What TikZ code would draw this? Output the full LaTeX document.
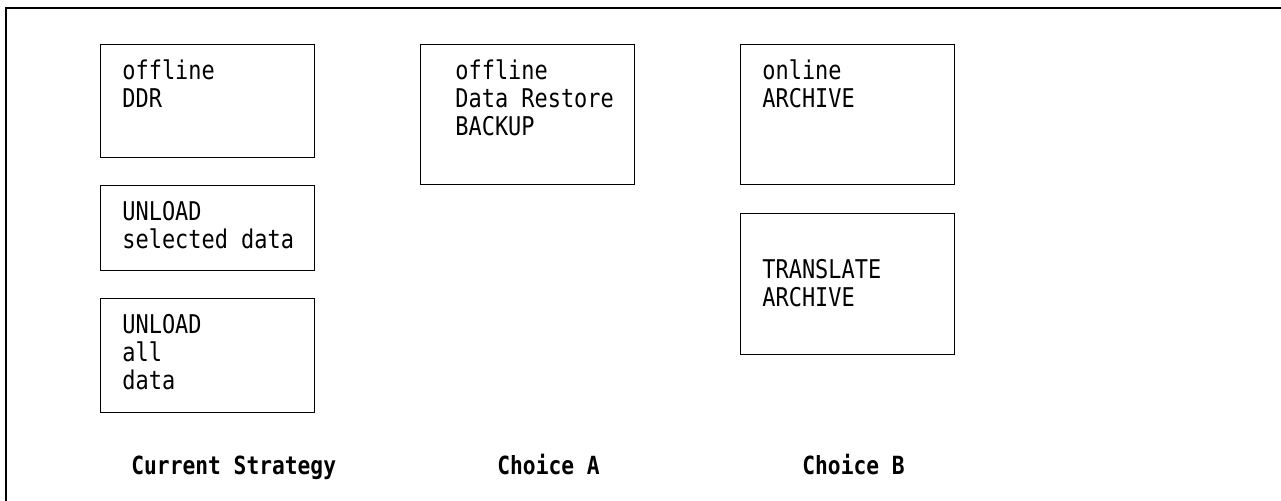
\documentclass[tikz,border=0pt]{standalone}
\usepackage{fontspec}
\newfontfamily\boxfont[FakeStretch=0.85]{DejaVu Sans Mono}
\newcommand\cellgap{\hspace*{0.512em}}
\usepackage{tikz}
\usetikzlibrary{calc,positioning}
\tikzset{%
	choicebox/.style = {draw, rectangle, line width=0.7pt, minimum width=107pt, inner sep=0pt, anchor=north west},
	boxtext/.style   = {anchor=base west, inner sep=0pt, align=left, text width=100pt, font=\boxfont\fontsize{12.9}{14}\selectfont},
	caption/.style   = {anchor=base west, inner sep=0pt, font=\boxfont\bfseries\fontsize{12.5}{14}\selectfont},
}
\begin{document}
\begin{tikzpicture}[x=0.5pt,y=-0.5pt]
	\useasboundingbox (0,0) rectangle (1281,501);
	\draw[line width=1pt] (6,501) -- (6,8) -- (1281,8);  % outer frame
	
	% Current Strategy
	\node[choicebox, minimum height=56.5pt] (ddr) at (100,44) {};
	\node[boxtext] (ddrtxt) at ($(ddr.north west)+(22,36)$) {offline\\DDR};
	\node[choicebox, minimum height=42.5pt] (sel) at (100,185) {};
	\node[boxtext] (seltxt) at ($(sel.north west)+(22,36)$) {UNLOAD\\selected\cellgap data};
	\node[choicebox, minimum height=57pt] (all) at (100,298) {};
	\node[boxtext] (alltxt) at ($(all.north west)+(22,36)$) {UNLOAD\\all\\data};
	
	% Choice A
	\node[choicebox, minimum height=70pt] (bkp) at (420,44) {};
	\node[boxtext] (bkptxt) at ($(bkp.north west)+(35,36)$) {offline\\Data\cellgap Restore\\BACKUP};
	
	% Choice B
	\node[choicebox, minimum height=70pt] (arc) at (740,44) {};
	\node[boxtext] (arctxt) at ($(arc.north west)+(22,36)$) {online\\ARCHIVE};
	\node[choicebox, minimum height=70.5pt] (trn) at (740,213) {};
	\node[boxtext] (trntxt) at ($(trn.north west)+(22,66)$) {TRANSLATE\\ARCHIVE};
	
	\node[caption] (capcur) at (131,475) {Current\cellgap Strategy};
	\node[caption] (capa) at (497,475) {Choice\cellgap A};
	\node[caption] (capb) at (802,475) {Choice\cellgap B};
\end{tikzpicture}
\end{document}
